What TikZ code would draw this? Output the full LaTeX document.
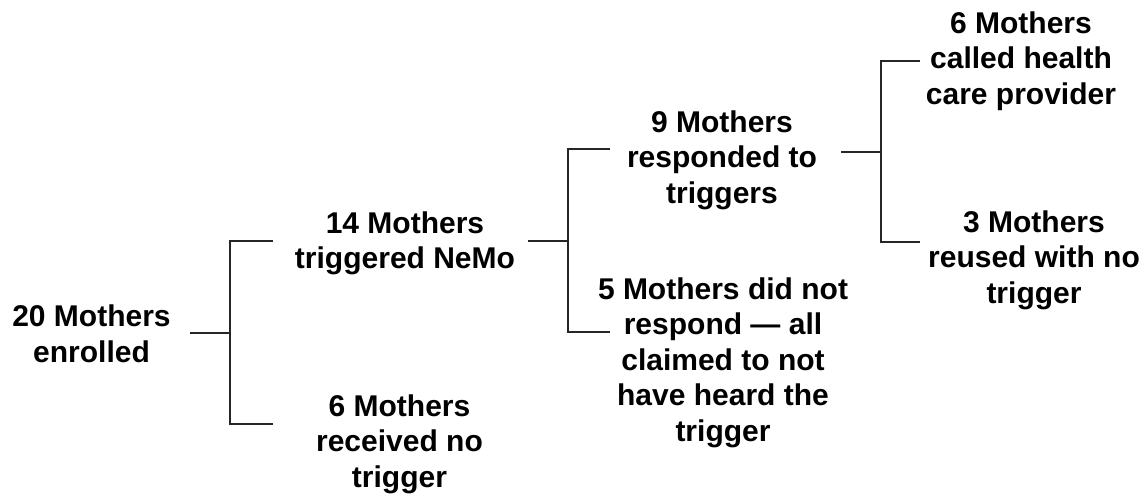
\documentclass[tikz,border=0pt]{standalone}
\usepackage{fontspec}
\setmainfont{Liberation Sans}
\begin{document}
\begin{tikzpicture}[x=1pt,y=-1pt,
  label/.style={align=center,inner sep=0pt,anchor=center,
    font=\fontsize{30}{35.5}\selectfont\bfseries},
  link/.style={draw=black!85,line width=2.2pt,line cap=butt,line join=miter}]
  \useasboundingbox (0,0) rectangle (1146,498);

  % outcome labels
  \node[label] (enrolled)  at (91.5,333.8) {20 Mothers\\enrolled};
  \node[label] (triggered) at (405,243.1)  {14 Mothers\\triggered NeMo};
  \node[label] (notrig)    at (399.5,443.9) {6 Mothers\\received no\\trigger};
  \node[label] (responded) at (722,159.9)  {9 Mothers\\responded to\\triggers};
  \node[label] (silent)    at (723,362.4)  {5 Mothers did not\\respond — all\\claimed to not\\have heard the\\trigger};
  \node[label] (called)    at (1021,60.9)  {6 Mothers\\called health\\care provider};
  \node[label] (reused)    at (1034,259.9) {3 Mothers\\reused with no\\trigger};

  % bracket joints
  \coordinate (a0) at (190,333);
  \coordinate (a1) at (230,333);
  \coordinate (aT) at (273,241);
  \coordinate (aB) at (273,424);

  \coordinate (b0) at (528,241);
  \coordinate (b1) at (568,241);
  \coordinate (bT) at (610,149);
  \coordinate (bB) at (610,332);

  \coordinate (c0) at (841,152);
  \coordinate (c1) at (881,152);
  \coordinate (cT) at (920,61);
  \coordinate (cB) at (920,242);

  % enrolled -> triggered / no trigger
  \draw[link] (a0) -- (a1);
  \draw[link] (aT) -| (a1) |- (aB);

  % triggered -> responded / did not respond
  \draw[link] (b0) -- (b1);
  \draw[link] (bT) -| (b1) |- (bB);

  % responded -> called / reused
  \draw[link] (c0) -- (c1);
  \draw[link] (cT) -| (c1) |- (cB);
\end{tikzpicture}
\end{document}
